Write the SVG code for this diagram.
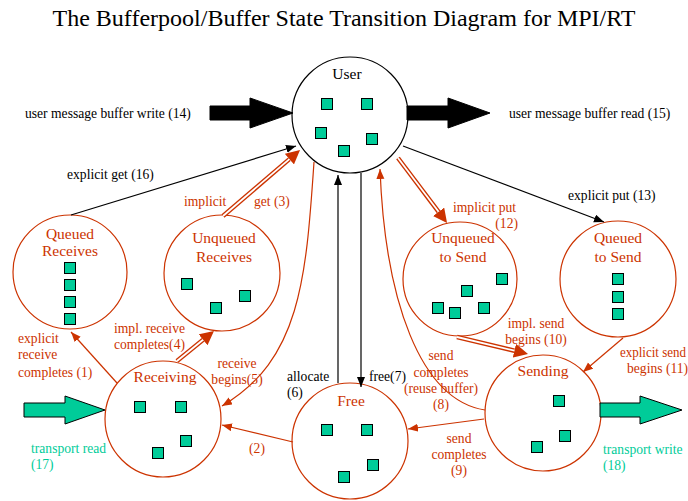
<svg xmlns="http://www.w3.org/2000/svg" width="688" height="501" viewBox="0 0 688 501">
<style>
text{font-family:"Liberation Serif","Times New Roman",serif;}
.t{font-size:13.6px;fill:#000;}
.r{font-size:13.6px;fill:#cc3300;}
.g{font-size:13.6px;fill:#00cc99;}
.nl{font-size:15.5px;fill:#cc3300;text-anchor:middle;}
.c{text-anchor:middle;}
.ring{fill:#fff;stroke:#cc3300;stroke-width:1.2;}
.sq{fill:#00cc99;stroke:#000;stroke-width:1;}
.lb{fill:none;stroke:#000;stroke-width:1.2;}
.lr{fill:none;stroke:#cc3300;stroke-width:1.2;}
.dbl{fill:none;stroke:#cc3300;stroke-width:4.5;}
.dblw{fill:none;stroke:#fff;stroke-width:1.8;}
.big{fill:#000;stroke:#000;stroke-width:1;}
.gbig{fill:#00cc99;stroke:#000;stroke-width:1;}
</style>
<defs>
<marker id="ab" markerUnits="userSpaceOnUse" markerWidth="11" markerHeight="9" refX="10" refY="4" orient="auto"><path d="M0,0 L10,4 L0,8 z" fill="#000"/></marker>
<marker id="ar" markerUnits="userSpaceOnUse" markerWidth="11" markerHeight="9" refX="10" refY="4" orient="auto"><path d="M0,0 L10,4 L0,8 z" fill="#cc3300"/></marker>
<marker id="ard" markerUnits="userSpaceOnUse" markerWidth="15" markerHeight="14" refX="0" refY="7" orient="auto"><path d="M0,0 L14,7 L0,14 z" fill="#cc3300"/></marker>
<rect id="s" class="sq" width="11" height="11"/>
</defs>
<rect width="688" height="501" fill="#fff"/>
<text x="344" y="26" class="c" style="font-size:24px">The Bufferpool/Buffer State Transition Diagram for MPI/RT</text>

<g id="user">
<circle cx="350" cy="115" r="58" fill="#fff" stroke="#000" stroke-width="1.2"/>
<text x="347" y="79" class="c" style="font-size:15.5px">User</text>
<use href="#s" x="321.5" y="98.5"/><use href="#s" x="361.5" y="98.5"/><use href="#s" x="315.5" y="127.5"/><use href="#s" x="366.5" y="133.5"/><use href="#s" x="338.5" y="145.5"/>
</g>
<g id="queued-receives">
<circle class="ring" cx="70" cy="272" r="57"/>
<text x="70" y="239" class="nl">Queued</text><text x="70" y="256" class="nl">Receives</text>
<use href="#s" x="64.5" y="262.5"/><use href="#s" x="64.5" y="279.5"/><use href="#s" x="64.5" y="296.5"/><use href="#s" x="64.5" y="313.5"/>
</g>
<g id="unqueued-receives">
<circle class="ring" cx="222" cy="273" r="58"/>
<text x="224" y="243" class="nl">Unqueued</text><text x="224" y="262" class="nl">Receives</text>
<use href="#s" x="181.5" y="278.5"/><use href="#s" x="239.5" y="290.5"/><use href="#s" x="210.5" y="302.5"/>
</g>
<g id="unqueued-to-send">
<circle class="ring" cx="460" cy="279" r="57"/>
<text x="463" y="243" class="nl">Unqueued</text><text x="463" y="262" class="nl">to Send</text>
<use href="#s" x="496.5" y="273.5"/><use href="#s" x="461.5" y="285.5"/><use href="#s" x="432.5" y="302.5"/><use href="#s" x="449.5" y="307.5"/><use href="#s" x="478.5" y="302.5"/>
</g>
<g id="queued-to-send">
<circle class="ring" cx="618" cy="279" r="58"/>
<text x="618" y="243" class="nl">Queued</text><text x="618" y="262" class="nl">to Send</text>
<use href="#s" x="612.5" y="273.5"/><use href="#s" x="612.5" y="291.5"/><use href="#s" x="612.5" y="308.5"/>
</g>
<g id="receiving">
<circle class="ring" cx="163" cy="419" r="58"/>
<text x="165" y="382" class="nl">Receiving</text>
<use href="#s" x="134.5" y="401.5"/><use href="#s" x="175.5" y="401.5"/><use href="#s" x="180.5" y="435.5"/><use href="#s" x="152.5" y="447.5"/>
</g>
<g id="free">
<circle class="ring" cx="350" cy="441" r="58"/>
<text x="351" y="406" class="nl">Free</text>
<use href="#s" x="321.5" y="424.5"/><use href="#s" x="361.5" y="424.5"/><use href="#s" x="367.5" y="459.5"/><use href="#s" x="338.5" y="471.5"/>
</g>
<g id="sending">
<circle class="ring" cx="543" cy="413" r="58"/>
<text x="543" y="376" class="nl">Sending</text>
<use href="#s" x="553.5" y="395.5"/><use href="#s" x="559.5" y="430.5"/><use href="#s" x="531.5" y="441.5"/>
</g>

<g id="connectors">
<polygon class="big" points="210,106 250,106 250,98 293,113 250,128 250,120 210,120"/>
<polygon class="big" points="407,106 448,106 448,98 490,113 448,128 448,120 407,120"/>
<polygon class="gbig" points="24,403 65,403 65,396 105,410 65,424 65,417 24,417"/>
<polygon class="gbig" points="600,403 640,403 640,396 682,410 640,424 640,417 600,417"/>
<path class="lb" d="M71,215 L296,146" marker-end="url(#ab)"/>
<path class="lb" d="M403,146 L604,222" marker-end="url(#ab)"/>
<path class="lb" d="M338,383 L338,175" marker-end="url(#ab)"/>
<path class="lb" d="M361,173 L361,387" marker-end="url(#ab)"/>
<path class="dbl" d="M223,216 L289.4,159.1" marker-end="url(#ard)"/><path class="dblw" d="M223,216 L289.4,159.1"/>
<path class="dbl" d="M398,158 L438.6,211.8" marker-end="url(#ard)"/><path class="dblw" d="M398,158 L438.6,211.8"/>
<path class="dbl" d="M177,361 L203.1,339.8" marker-end="url(#ard)"/><path class="dblw" d="M177,361 L203.1,339.8"/>
<path class="dbl" d="M457,337 L514.4,350.7" marker-end="url(#ard)"/><path class="dblw" d="M457,337 L514.4,350.7"/>
<path class="lr" d="M117,383 L71,332" marker-end="url(#ar)"/>
<path class="lr" d="M314,162 C306,280 300,360 222,406" marker-end="url(#ar)"/>
<path class="lr" d="M485,410 C420,400 385,300 380,169" marker-end="url(#ar)"/>
<path class="lr" d="M293,442 L222,425" marker-end="url(#ar)"/>
<path class="lr" d="M484,419 L408,429" marker-end="url(#ar)"/>
<path class="lr" d="M623,338 L583,372" marker-end="url(#ar)"/>
</g>

<g id="labels">
<text x="25" y="118" class="t">user message buffer write (14)</text>
<text x="509" y="118" class="t">user message buffer read (15)</text>
<text x="67" y="179" class="t">explicit get (16)</text>
<text x="568" y="200" class="t">explicit put (13)</text>
<text x="184" y="206" class="r">implicit</text>
<text x="254" y="206" class="r">get (3)</text>
<text x="453" y="212" class="r">implicit put</text>
<text x="518" y="228" class="r" text-anchor="end">(12)</text>
<text x="18" y="343" class="r">explicit</text>
<text x="18" y="359" class="r">receive</text>
<text x="18" y="377" class="r">completes (1)</text>
<text x="114" y="333" class="r">impl. receive</text>
<text x="114" y="349" class="r">completes(4)</text>
<text x="237" y="368" class="r c">receive</text>
<text x="237" y="384" class="r c">begins(5)</text>
<text x="287" y="381" class="t">allocate</text>
<text x="287" y="397" class="t">(6)</text>
<text x="369" y="381" class="t">free(7)</text>
<text x="441" y="360" class="r c">send</text>
<text x="441" y="377" class="r c">completes</text>
<text x="441" y="393" class="r c">(reuse buffer)</text>
<text x="441" y="409" class="r c">(8)</text>
<text x="459" y="443" class="r c">send</text>
<text x="459" y="459" class="r c">completes</text>
<text x="459" y="475" class="r c">(9)</text>
<text x="257" y="453" class="r c">(2)</text>
<text x="536" y="328" class="r c">impl. send</text>
<text x="536" y="344" class="r c">begins (10)</text>
<text x="620" y="357" class="r" textLength="66" lengthAdjust="spacingAndGlyphs">explicit send</text>
<text x="627" y="373" class="r">begins (11)</text>
<text x="31" y="453" class="g">transport read</text>
<text x="31" y="469" class="g">(17)</text>
<text x="603" y="454" class="g">transport write</text>
<text x="603" y="470" class="g">(18)</text>
</g>
</svg>
